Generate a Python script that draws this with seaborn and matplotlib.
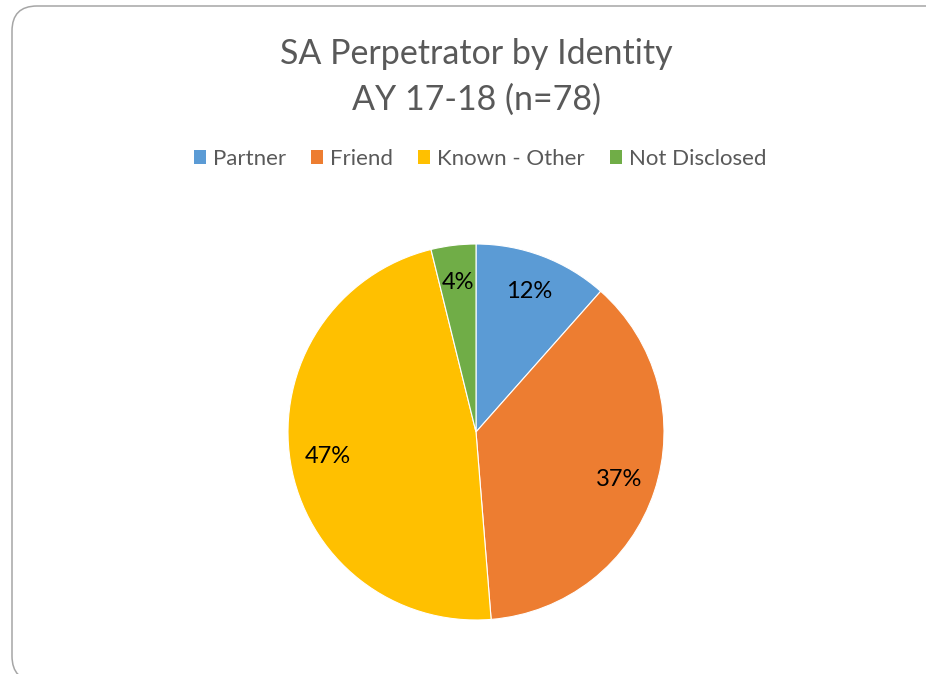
import matplotlib
matplotlib.use("Agg")
import matplotlib.pyplot as plt
from matplotlib.patches import FancyBboxPatch, Patch
import seaborn as sns

categories = ["Partner", "Friend", "Known - Other", "Not Disclosed"]
counts = [9, 29, 37, 3]
colors = ["#5B9BD5", "#ED7D31", "#FFC000", "#70AD47"]
title = "SA Perpetrator by Identity\nAY 17-18 (n=78)"

sns.set_theme(style="white")
plt.rcParams["font.family"] = ["Lato", "DejaVu Sans"]

W, H = 926, 674
fig = plt.figure(figsize=(W / 100, H / 100), dpi=100)

# rounded chart frame, in inches, running off the right/bottom edges
frame = FancyBboxPatch((0.12, -0.07), 9.40, 6.75,
                       boxstyle="round,pad=0,rounding_size=0.25",
                       transform=fig.dpi_scale_trans, facecolor="none",
                       edgecolor="#A6A6A6", linewidth=1.1, zorder=-1,
                       clip_on=False)
fig.patches.append(frame)

# pie centre (476, 432) px, radius 188 px
cx, cy, r = 476, 432, 188
ax = fig.add_axes([(cx - r) / W, (H - cy - r) / H, 2 * r / W, 2 * r / H])
wedges, texts, autotexts = ax.pie(
    counts, colors=colors, startangle=90, counterclock=False,
    autopct=lambda p: f"{p:.0f}%", pctdistance=0.8,
    wedgeprops=dict(edgecolor="white", linewidth=0.8),
    textprops=dict(fontsize=17, color="black"))
ax.set_xlim(-1, 1)
ax.set_ylim(-1, 1)
ax.set_aspect("equal")
ax.axis("off")

fig.text(cx / W, 1 - 77 / H, title, ha="center", va="center",
         fontsize=24.5, color="#595959", linespacing=1.55)

handles = [Patch(facecolor=c, edgecolor="none") for c in colors]
fig.legend(handles, categories, loc="center", bbox_to_anchor=(480 / W, 1 - 159 / H),
           ncol=4, frameon=False, fontsize=16, labelcolor="#595959",
           handlelength=0.56, handleheight=0.56, handletextpad=0.3, columnspacing=1.12)

fig.savefig("out.png", dpi=100)
